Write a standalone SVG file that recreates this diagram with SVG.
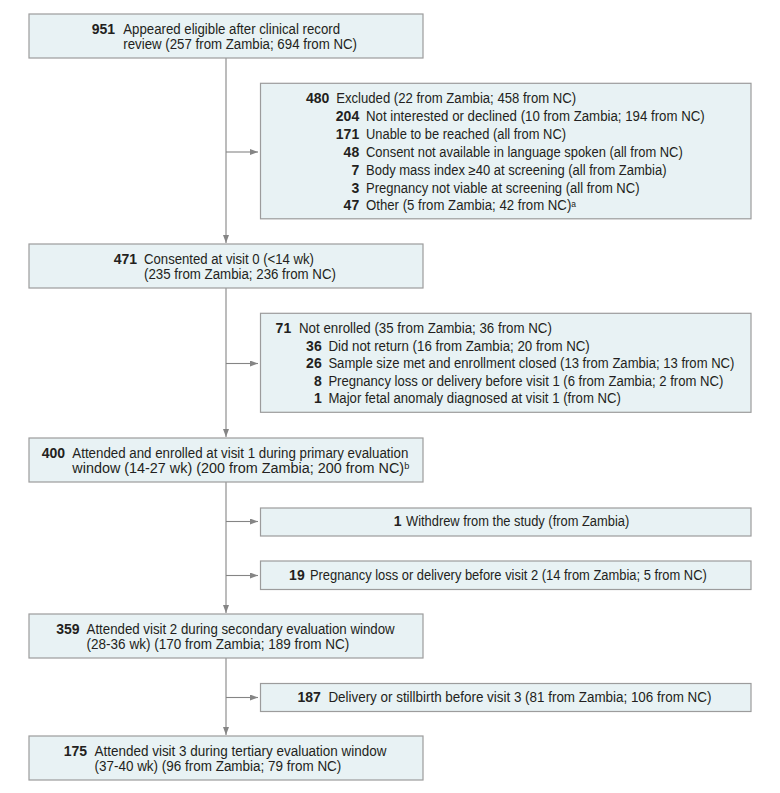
<svg xmlns="http://www.w3.org/2000/svg" width="780" height="793" viewBox="0 0 780 793">
<style>
.box{fill:#e8f2f4;stroke:#9c9c9c;stroke-width:1.2}
text{font-family:"Liberation Sans",Arial,sans-serif;font-size:14px;fill:#231f20}
.n{font-weight:bold;text-anchor:end}
.sup{font-size:9px}
.ln{stroke:#858585;stroke-width:1.1;fill:none}
</style>
<defs>
<marker id="ah" viewBox="0 0 8 6" refX="8" refY="3" markerWidth="8" markerHeight="6" markerUnits="userSpaceOnUse" orient="auto">
<path d="M0,0 L8,3 L0,6 z" fill="#858585"/>
</marker>
</defs>
<rect width="780" height="793" fill="#ffffff"/>
<g id="connectors">
<line class="ln" x1="226" y1="58" x2="226" y2="243" marker-end="url(#ah)"/>
<line class="ln" x1="226" y1="288" x2="226" y2="437" marker-end="url(#ah)"/>
<line class="ln" x1="226" y1="482" x2="226" y2="613" marker-end="url(#ah)"/>
<line class="ln" x1="226" y1="658" x2="226" y2="735" marker-end="url(#ah)"/>
<line class="ln" x1="226" y1="152" x2="258" y2="152" marker-end="url(#ah)"/>
<line class="ln" x1="226" y1="363.5" x2="258" y2="363.5" marker-end="url(#ah)"/>
<line class="ln" x1="226" y1="521.5" x2="258" y2="521.5" marker-end="url(#ah)"/>
<line class="ln" x1="226" y1="575.5" x2="258" y2="575.5" marker-end="url(#ah)"/>
<line class="ln" x1="226" y1="697.5" x2="258" y2="697.5" marker-end="url(#ah)"/>
</g>
<g id="n951">
<rect class="box" x="29" y="14" width="394" height="44"/>
<text class="n" x="115" y="34">951</text>
<text x="123.3" y="34" textLength="216.7" lengthAdjust="spacingAndGlyphs">Appeared eligible after clinical record</text>
<text x="123.3" y="48.5" textLength="233.7" lengthAdjust="spacingAndGlyphs">review (257 from Zambia; 694 from NC)</text>
</g>
<g id="n480">
<rect class="box" x="260.5" y="83.3" width="490.5" height="135.5"/>
<text class="n" x="329.4" y="103">480</text>
<text x="336.2" y="103" textLength="240" lengthAdjust="spacingAndGlyphs">Excluded (22 from Zambia; 458 from NC)</text>
<text class="n" x="359.2" y="120.9">204</text>
<text x="366" y="120.9" textLength="338.7" lengthAdjust="spacingAndGlyphs">Not interested or declined (10 from Zambia; 194 from NC)</text>
<text class="n" x="359.2" y="138.8">171</text>
<text x="366" y="138.8" textLength="200" lengthAdjust="spacingAndGlyphs">Unable to be reached (all from NC)</text>
<text class="n" x="359.2" y="156.7">48</text>
<text x="366" y="156.7" textLength="316.7" lengthAdjust="spacingAndGlyphs">Consent not available in language spoken (all from NC)</text>
<text class="n" x="359.2" y="174.6">7</text>
<text x="366" y="174.6" textLength="300.5" lengthAdjust="spacingAndGlyphs">Body mass index ≥40 at screening (all from Zambia)</text>
<text class="n" x="359.2" y="192.5">3</text>
<text x="366" y="192.5" textLength="273.5" lengthAdjust="spacingAndGlyphs">Pregnancy not viable at screening (all from NC)</text>
<text class="n" x="359.2" y="210.4">47</text>
<text x="366" y="210.4" textLength="210" lengthAdjust="spacingAndGlyphs">Other (5 from Zambia; 42 from NC)<tspan class="sup" dy="-3.5">a</tspan></text>
</g>
<g id="n471">
<rect class="box" x="29" y="244" width="394" height="44"/>
<text class="n" x="137" y="264">471</text>
<text x="144" y="264" textLength="170" lengthAdjust="spacingAndGlyphs">Consented at visit 0 (&lt;14 wk)</text>
<text x="144" y="278.5" textLength="192" lengthAdjust="spacingAndGlyphs">(235 from Zambia; 236 from NC)</text>
</g>
<g id="n71">
<rect class="box" x="260.5" y="313.3" width="490.5" height="99"/>
<text class="n" x="291.2" y="333">71</text>
<text x="299" y="333" textLength="252.9" lengthAdjust="spacingAndGlyphs">Not enrolled (35 from Zambia; 36 from NC)</text>
<text class="n" x="321.7" y="350.6">36</text>
<text x="328.4" y="350.6" textLength="261.4" lengthAdjust="spacingAndGlyphs">Did not return (16 from Zambia; 20 from NC)</text>
<text class="n" x="321.7" y="368.2">26</text>
<text x="328.4" y="368.2" textLength="406" lengthAdjust="spacingAndGlyphs">Sample size met and enrollment closed (13 from Zambia; 13 from NC)</text>
<text class="n" x="321.7" y="385.8">8</text>
<text x="328.4" y="385.8" textLength="394.9" lengthAdjust="spacingAndGlyphs">Pregnancy loss or delivery before visit 1 (6 from Zambia; 2 from NC)</text>
<text class="n" x="321.7" y="403.4">1</text>
<text x="328.4" y="403.4" textLength="292.5" lengthAdjust="spacingAndGlyphs">Major fetal anomaly diagnosed at visit 1 (from NC)</text>
</g>
<g id="n400">
<rect class="box" x="29" y="438" width="394" height="44"/>
<text class="n" x="65" y="458">400</text>
<text x="72.3" y="458" textLength="336" lengthAdjust="spacingAndGlyphs">Attended and enrolled at visit 1 during primary evaluation</text>
<text x="72.3" y="472.5" textLength="337" lengthAdjust="spacingAndGlyphs">window (14-27 wk) (200 from Zambia; 200 from NC)<tspan class="sup" dy="-3.5">b</tspan></text>
</g>
<g id="n1">
<rect class="box" x="260.5" y="508" width="490.5" height="28"/>
<text class="n" x="401.6" y="525.6">1</text>
<text x="406" y="525.6" textLength="223.2" lengthAdjust="spacingAndGlyphs">Withdrew from the study (from Zambia)</text>
</g>
<g id="n19">
<rect class="box" x="260.5" y="561" width="490.5" height="28.5"/>
<text class="n" x="304.7" y="580">19</text>
<text x="309.9" y="580" textLength="396.9" lengthAdjust="spacingAndGlyphs">Pregnancy loss or delivery before visit 2 (14 from Zambia; 5 from NC)</text>
</g>
<g id="n359">
<rect class="box" x="29" y="614" width="394" height="44"/>
<text class="n" x="79.6" y="634">359</text>
<text x="86.6" y="634" textLength="308" lengthAdjust="spacingAndGlyphs">Attended visit 2 during secondary evaluation window</text>
<text x="86.6" y="648.5" textLength="262.7" lengthAdjust="spacingAndGlyphs">(28-36 wk) (170 from Zambia; 189 from NC)</text>
</g>
<g id="n187">
<rect class="box" x="260.5" y="683.5" width="490.5" height="28"/>
<text class="n" x="320.9" y="702.4">187</text>
<text x="328.4" y="702.4" textLength="383" lengthAdjust="spacingAndGlyphs">Delivery or stillbirth before visit 3 (81 from Zambia; 106 from NC)</text>
</g>
<g id="n175">
<rect class="box" x="29" y="736" width="394" height="44"/>
<text class="n" x="87" y="756">175</text>
<text x="94.5" y="756" textLength="292" lengthAdjust="spacingAndGlyphs">Attended visit 3 during tertiary evaluation window</text>
<text x="94.5" y="770.5" textLength="246.8" lengthAdjust="spacingAndGlyphs">(37-40 wk) (96 from Zambia; 79 from NC)</text>
</g>
</svg>
